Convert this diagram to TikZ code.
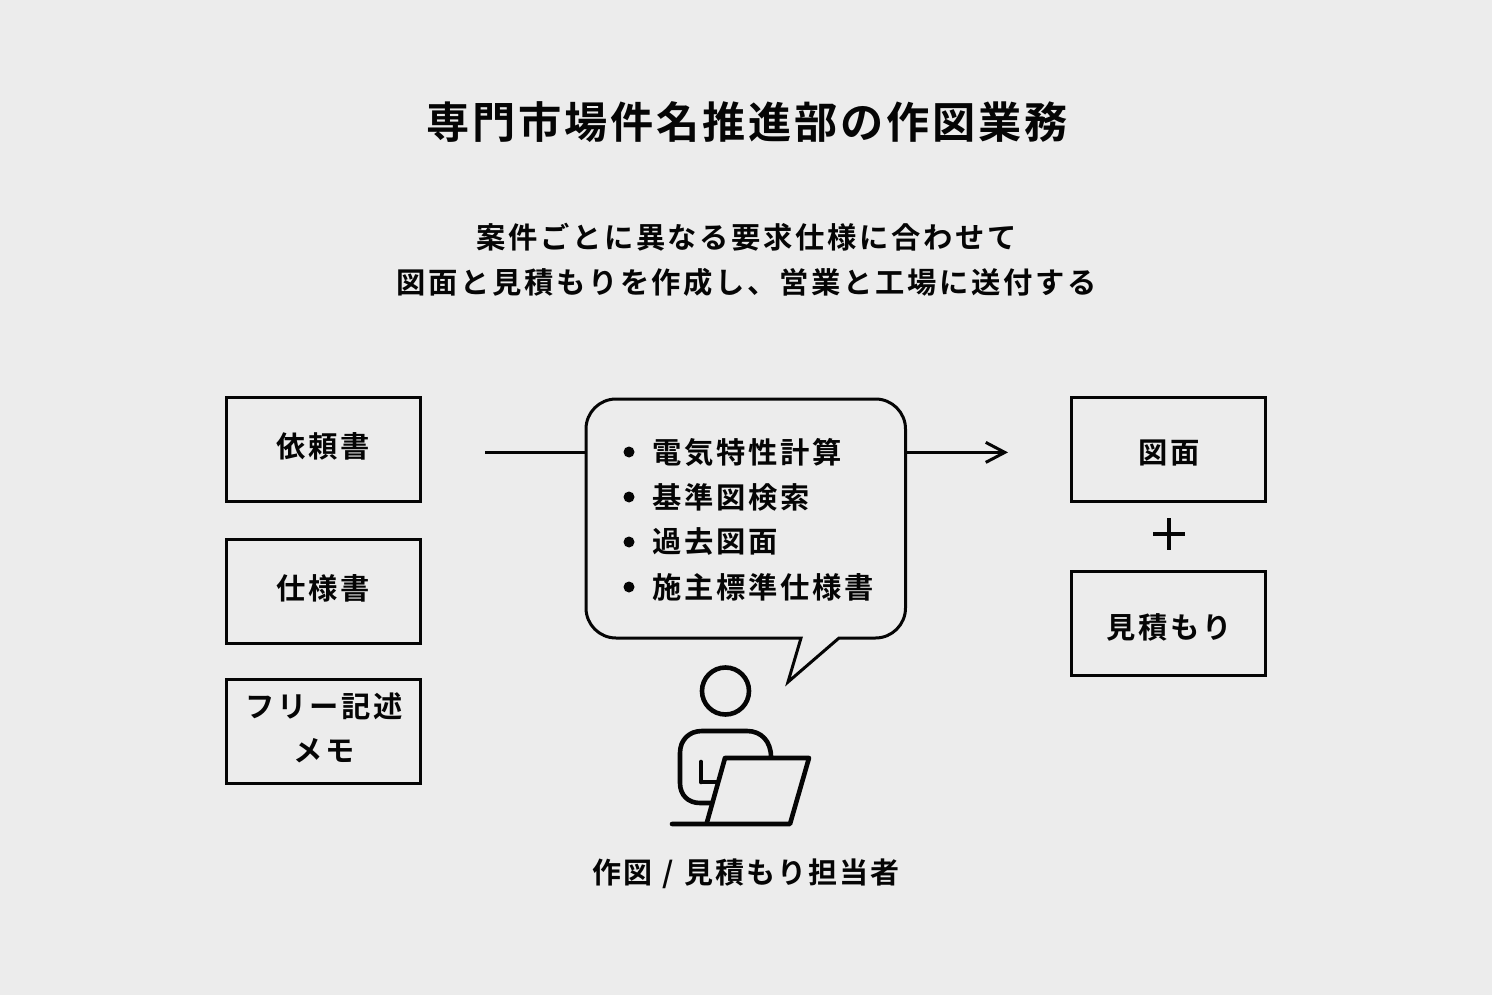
\documentclass[tikz,border=0pt]{standalone}
\usepackage{fontspec}
\setmainfont{Noto Sans CJK JP}[BoldFont={Noto Sans CJK JP Bold}]
\newfontfamily\jpT{Noto Sans CJK JP Bold}[LetterSpace=6.5]
\newfontfamily\jpB{Noto Sans CJK JP Bold}[LetterSpace=9]
\newfontfamily\jpC{Noto Sans CJK JP Bold}[LetterSpace=7]
\usetikzlibrary{arrows.meta}
\definecolor{bgc}{HTML}{ECECEC}
\definecolor{inkc}{HTML}{050505}
\tikzset{
  ink/.style={draw=inkc,line width=3pt},
  docbox/.style={ink,minimum width=194pt,minimum height=104pt,inner sep=0pt},
  txt/.style={text=inkc,inner sep=0pt,font=\jpB\fontsize{29.3}{29.3}\selectfont},
  captxt/.style={text=inkc,inner sep=0pt,font=\jpC\fontsize{29}{29}\selectfont},
  titletxt/.style={text=inkc,inner sep=0pt,font=\jpT\fontsize{43.2}{43.2}\selectfont},
  item/.style={txt,anchor=west},
  dotb/.style={circle,fill=inkc,minimum size=11pt,inner sep=0pt},
  arrowline/.style={ink,line width=3pt,-{Straight Barb[length=19pt,width=20pt,line width=3pt]}},
  plainline/.style={ink,line width=3pt},
  iconl/.style={ink,line width=4.6pt,line join=round,line cap=round}
}
\begin{document}
\begin{tikzpicture}[x=1pt,y=-1pt]
\useasboundingbox[fill=bgc] (0,0) rectangle (1492,995);
\node[titletxt] (title) at (746.8,122) {専門市場件名推進部の作図業務};
\node[txt] (sub1) at (746.5,237) {案件ごとに異なる要求仕様に合わせて};
\node[txt] (sub2) at (746.5,282.5) {図面と見積もりを作成し、営業と工場に送付する};
% left boxes
\node[docbox] (b1) at (323.5,449.5) {};
\node[docbox] (b2) at (323.5,591.5) {};
\node[docbox] (b3) at (323.5,731.5) {};
\node[txt] (t1) at (323.5,446.5) {依頼書};
\node[txt] (t2) at (323.5,588) {仕様書};
\node[txt] (t3a) at (324,706) {フリー記述};
\node[txt] (t3b) at (324,751) {メモ};
% right boxes
\node[docbox] (r1) at (1168.5,449.5) {};
\node[docbox] (r2) at (1168.5,623.5) {};
\node[txt] (t4) at (1169,452.5) {図面};
\node[txt] (t5) at (1169,627) {見積もり};
% plus
\coordinate (pl) at (1153,534); \coordinate (pr) at (1185,534);
\coordinate (pt) at (1169,518); \coordinate (pb) at (1169,550);
\draw[ink,line width=4.4pt] (pl) -- (pr) (pt) -- (pb);
% bubble
\node[minimum width=320pt,minimum height=239pt,inner sep=0pt] (bubble) at (746,518.5) {};
\draw[ink,line width=3pt,line join=miter,miter limit=10]
  (616,399) -- (875.5,399) arc[start angle=-90,end angle=0,radius=30,y=-1pt] -- (905.5,608)
  arc[start angle=0,end angle=90,radius=30,y=-1pt] -- (839,638) -- (788,682) -- (801,638) -- (616,638)
  arc[start angle=90,end angle=180,radius=30,y=-1pt] -- (586,429)
  arc[start angle=180,end angle=270,radius=30,y=-1pt] -- cycle;
\foreach \n/\yy/\s in {a/452/電気特性計算,b/497/基準図検索,c/542/過去図面,d/587/施主標準仕様書}{
  \node[dotb] (dot\n) at (629,\yy) {};
  \node[item] (it\n) at (652.5,\yy) {\s};
}
% connectors
\coordinate (inL) at (485,452.4);
\coordinate (outR) at (1008,452.4);
\draw[plainline] (inL) -- (inL -| bubble.west);
\draw[arrowline] (outR -| bubble.east) -- (outR);
% person
\node[circle,ink,line width=4.6pt,minimum size=47pt,inner sep=0pt] (head) at (725.5,691) {};
\draw[iconl,line cap=butt] (771,758) -- (771,757) .. controls (771,741) and (761,731) .. (747,731) -- (702,731)
  .. controls (689,731) and (680,740) .. (680,753) -- (680,783)
  .. controls (680,795) and (688,803) .. (700,803) -- (713,803);
\draw[iconl] (701,762) -- (701,782);
\draw[iconl,line cap=butt] (701,782) -- (718,782);
\draw[iconl] (725,758) -- (809,758) -- (790,824) -- (672,824);
\draw[iconl,line cap=butt] (725,758) -- (706.5,824);
\node[captxt] (cap) at (746,873.5) {作図\hspace{1.5pt} /\hspace{1.5pt} 見積もり担当者};
\end{tikzpicture}
\end{document}
